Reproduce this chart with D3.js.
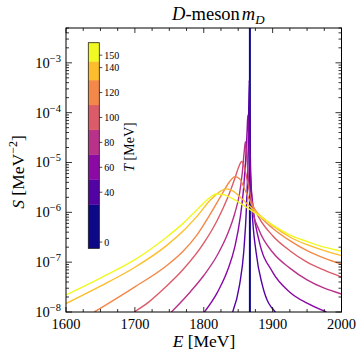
<!DOCTYPE html>
<html><head><meta charset="utf-8">
<script src="https://cdn.jsdelivr.net/npm/d3@7"></script>
<style>
body{margin:0;background:#fff;}
text{font-family:"Liberation Serif","Times New Roman",serif;fill:#000;}
</style></head>
<body><svg id="c" width="358" height="352"></svg>
<script>
// ---- data ----
const temps = [0, 40, 60, 80, 100, 120, 140, 150];
const mD = 1867;
const cbTicks = [0, 40, 60, 80, 100, 120, 140, 150];
const cbBounds = [-5, 30, 50, 70, 90, 110, 130, 145, 160];
const xTicks = [1600, 1700, 1800, 1900, 2000];
const yTickExp = [-8, -7, -6, -5, -4, -3];

const E40 = [1842,1852,1858,1862,1864.5,1866,1867.5,1870,1876,1885,1904];
const S40 = [1.0e-8,3.5e-8,1.58e-7,1.26e-6,1.58e-5,4.5e-4,1.58e-5,1.26e-6,1.58e-7,3.5e-8,1.0e-8];
const E60 = [1801,1820,1835,1845,1853,1858,1861,1863,1864,1865.5,1868,1872,1880,1900,1925,1950,1978];
const S60 = [1.0e-8,2.5e-8,7.1e-8,2.0e-7,7.9e-7,3.2e-6,1.26e-5,4.5e-5,8.9e-5,3.2e-5,5.0e-6,1.12e-6,2.8e-7,6.3e-8,2.5e-8,1.5e-8,1.0e-8];
const E80 = [1753,1780,1800,1820,1835,1845,1852,1856,1859,1860.5,1862,1865,1870,1880,1900,1925,1950,1975,2000];
const S80 = [1.0e-8,2.5e-8,5.4e-8,1.41e-7,3.8e-7,9.5e-7,2.4e-6,6.3e-6,1.78e-5,2.6e-5,1.58e-5,4.5e-6,1.26e-6,4.5e-7,1.58e-7,7.6e-8,4.4e-8,3.0e-8,2.3e-8];
const E100 = [1699,1720,1745,1770,1800,1820,1835,1845,1851,1855,1858,1863,1870,1880,1900,1925,1950,1975,2000];
const S100 = [1.0e-8,1.58e-8,3.2e-8,7.1e-8,2.4e-7,7.1e-7,2.0e-6,4.7e-6,8.3e-6,1.05e-5,8.9e-6,4.5e-6,1.58e-6,7.9e-7,3.4e-7,1.7e-7,1.0e-7,6.9e-8,5.0e-8];
const E120 = [1641,1700,1745,1770,1790,1810,1825,1838,1845,1852,1860,1870,1880,1900,1925,1950,1975,2000];
const S120 = [1.0e-8,3.2e-8,8.3e-8,1.66e-7,3.5e-7,9.5e-7,2.14e-6,4.2e-6,5.2e-6,4.7e-6,2.8e-6,1.41e-6,8.9e-7,4.8e-7,2.7e-7,1.7e-7,1.2e-7,9.1e-8];
const E140 = [1600,1650,1700,1745,1770,1790,1810,1825,1832,1842,1855,1870,1880,1900,1925,1950,1975,2000];
const S140 = [1.48e-8,3.3e-8,7.9e-8,2.1e-7,4.2e-7,8.3e-7,1.78e-6,2.7e-6,2.95e-6,2.7e-6,1.9e-6,1.2e-6,9.1e-7,5.4e-7,3.2e-7,2.24e-7,1.7e-7,1.35e-7];
const E150 = [1600,1650,1700,1745,1770,1790,1805,1818,1830,1845,1860,1880,1900,1925,1950,1975,2000];
const S150 = [2.2e-8,4.8e-8,1.12e-7,3.1e-7,6.0e-7,1.12e-6,1.78e-6,2.34e-6,2.24e-6,1.78e-6,1.32e-6,8.7e-7,5.6e-7,3.5e-7,2.6e-7,2.0e-7,1.66e-7];

const curves = [
  {T:40,E:E40,S:S40},{T:60,E:E60,S:S60},{T:80,E:E80,S:S80},{T:100,E:E100,S:S100},
  {T:120,E:E120,S:S120},{T:140,E:E140,S:S140},{T:150,E:E150,S:S150}
];

// ---- layout ----
const L=66, R=341.5, T0=28, B=312;
const svg = d3.select("#c");
const x = d3.scaleLinear().domain([1600,2000]).range([L,R]);
const y = d3.scaleLog().domain([1e-8,5e-3]).range([B,T0]);
const colorOf = t => d3.interpolatePlasma(temps.indexOf(t)/(temps.length-1));

svg.append("clipPath").attr("id","clip").append("rect")
  .attr("x",L).attr("y",T0).attr("width",R-L).attr("height",B-T0);

const g = svg.append("g").attr("clip-path","url(#clip)");
// T=0 : vertical line at m_D
g.append("line").attr("x1",x(mD)).attr("x2",x(mD)).attr("y1",B).attr("y2",T0)
  .attr("stroke",colorOf(0)).attr("stroke-width",2);

const line = d3.line().x(d=>x(d[0])).y(d=>y(d[1])).curve(d3.curveMonotoneX);
curves.forEach(c=>{
  const pts = c.E.map((e,i)=>[e,c.S[i]]);
  g.append("path").attr("d",line(pts)).attr("fill","none")
    .attr("stroke",colorOf(c.T)).attr("stroke-width",1.4);
});

// ---- axes (ticks inward on all sides) ----
const ax = svg.append("g").attr("stroke","#000").attr("stroke-width",0.8);
// x major & minor
d3.range(1600,2001,25).forEach(v=>{
  const major = v%100===0, len = major?5:3;
  ax.append("line").attr("x1",x(v)).attr("x2",x(v)).attr("y1",B).attr("y2",B-len);
  ax.append("line").attr("x1",x(v)).attr("x2",x(v)).attr("y1",T0).attr("y2",T0+len);
});
// y major & minor
for(let e=-8;e<=-3;e++){
  for(let m=1;m<=9;m++){
    const v = m*Math.pow(10,e);
    if(v<1e-8||v>5e-3) continue;
    const len = m===1?6:3;
    ax.append("line").attr("x1",L).attr("x2",L+len).attr("y1",y(v)).attr("y2",y(v));
    ax.append("line").attr("x1",R).attr("x2",R-len).attr("y1",y(v)).attr("y2",y(v));
  }
}
svg.append("rect").attr("x",L).attr("y",T0).attr("width",R-L).attr("height",B-T0)
  .attr("fill","none").attr("stroke","#000").attr("stroke-width",1);

// tick labels
xTicks.forEach(v=>{
  svg.append("text").attr("x",x(v)).attr("y",B+17).attr("text-anchor","middle")
    .attr("font-size",14.5).text(v);
});
yTickExp.forEach(e=>{
  const t = svg.append("text").attr("x",61).attr("y",y(Math.pow(10,e))+5)
    .attr("text-anchor","end").attr("font-size",14.5);
  t.append("tspan").text("10");
  t.append("tspan").attr("dy",-6).attr("font-size",10.5).text("\u2212"+(-e));
});

// axis labels
const xl = svg.append("text").attr("x",204).attr("y",347).attr("text-anchor","middle").attr("font-size",17.5);
xl.append("tspan").attr("font-style","italic").text("E");
xl.append("tspan").text(" [MeV]");
const yl = svg.append("text").attr("transform","translate(24,172) rotate(-90)")
  .attr("text-anchor","middle").attr("font-size",17.5);
yl.append("tspan").attr("font-style","italic").text("S");
yl.append("tspan").text(" [MeV");
yl.append("tspan").attr("dy",-7).attr("font-size",12).text("\u22122");
yl.append("tspan").attr("dy",7).text("]");

// title
const tt = svg.append("text").attr("x",172).attr("y",20).attr("font-size",18.5);
tt.append("tspan").attr("font-style","italic").text("D");
tt.append("tspan").text("-meson");
tt.append("tspan").attr("font-style","italic").attr("dx",2).text("m");
tt.append("tspan").attr("font-style","italic").attr("dy",4).attr("font-size",13).text("D");

// ---- colorbar ----
const cbX = 88.3, cbW = 11;
const cy = d3.scaleLinear().domain([-5,160]).range([248.3,42.7]);
const cb = svg.append("g");
temps.forEach((t,i)=>{
  cb.append("rect").attr("x",cbX).attr("width",cbW)
    .attr("y",cy(cbBounds[i+1])).attr("height",cy(cbBounds[i])-cy(cbBounds[i+1]))
    .attr("fill",colorOf(t)).attr("stroke",colorOf(t)).attr("stroke-width",0.3);
});
cb.append("rect").attr("x",cbX).attr("y",cy(160)).attr("width",cbW).attr("height",cy(-5)-cy(160))
  .attr("fill","none").attr("stroke","#222").attr("stroke-width",0.8);
cbTicks.forEach(t=>{
  cb.append("line").attr("x1",cbX+cbW).attr("x2",cbX+cbW+3).attr("y1",cy(t)).attr("y2",cy(t))
    .attr("stroke","#000").attr("stroke-width",0.7);
  cb.append("text").attr("x",cbX+cbW+5).attr("y",cy(t)+3.5).attr("font-size",10).text(t);
});
const cl = svg.append("text").attr("transform","translate(134,147) rotate(-90)")
  .attr("text-anchor","middle").attr("font-size",14);
cl.append("tspan").attr("font-style","italic").text("T");
cl.append("tspan").text(" [MeV]");
</script></body></html>
